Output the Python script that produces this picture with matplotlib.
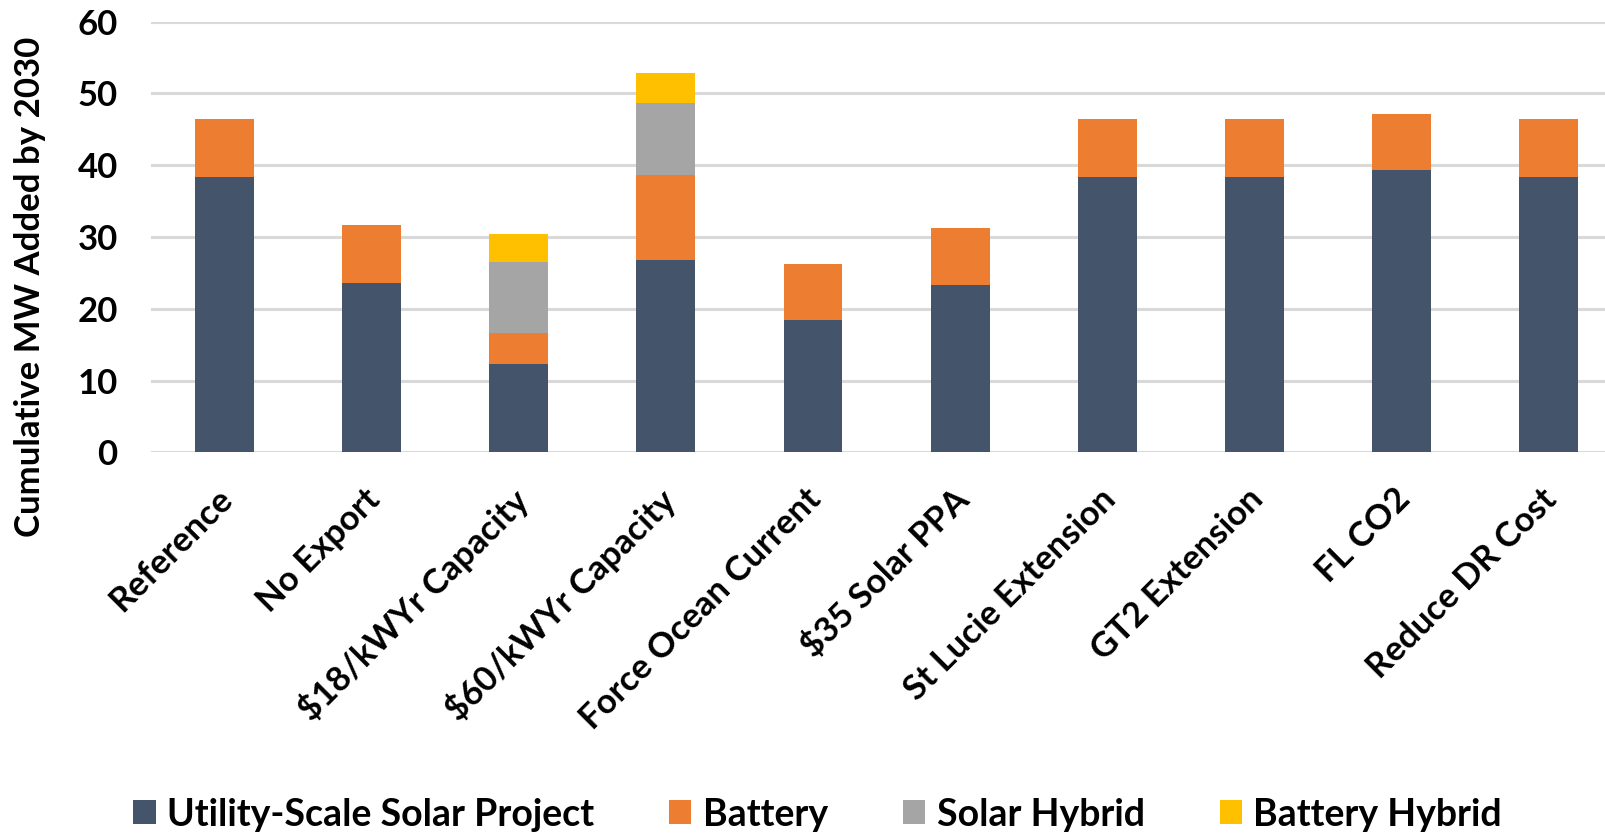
import matplotlib
matplotlib.use("Agg")
import matplotlib.pyplot as plt
import matplotlib.transforms as mtransforms
import numpy as np

plt.rcParams['font.family'] = ['Lato', 'DejaVu Sans']

scenarios = ["Reference", "No Export", "$18/kWYr Capacity", "$60/kWYr Capacity",
             "Force Ocean Current", "$35 Solar PPA", "St Lucie Extension",
             "GT2 Extension", "FL CO2", "Reduce DR Cost"]
solar = [38.4, 23.6, 12.3, 26.8, 18.4, 23.3, 38.4, 38.4, 39.3, 38.4]
battery = [8.1, 8.1, 4.3, 11.9, 7.8, 8.0, 8.1, 8.1, 7.8, 8.1]
solar_hybrid = [0, 0, 9.9, 10.0, 0, 0, 0, 0, 0, 0]
battery_hybrid = [0, 0, 3.9, 4.2, 0, 0, 0, 0, 0, 0]

series = [
    ("Utility-Scale Solar Project", solar, "#44546A"),
    ("Battery", battery, "#ED7D31"),
    ("Solar Hybrid", solar_hybrid, "#A5A5A5"),
    ("Battery Hybrid", battery_hybrid, "#FFC000"),
]

fig = plt.figure(figsize=(16.06, 8.36), dpi=100)
ax = fig.add_axes([0.094, 0.459, 0.906, 0.515])

x = np.arange(len(scenarios))
bottom = np.zeros(len(scenarios))
for name, vals, color in series:
    vals = np.array(vals)
    ax.bar(x, vals, 0.4, bottom=bottom, color=color, label=name, zorder=3)
    bottom += vals

ax.set_ylim(0, 60)
ax.set_xlim(-0.5, 9.39)
ax.set_yticks(range(0, 61, 10))
ax.yaxis.grid(True, color="#D9D9D9", linewidth=2.2, zorder=0)
ax.set_axisbelow(True)
for s in ax.spines.values():
    s.set_visible(False)
ax.tick_params(axis="both", length=0)
ax.tick_params(axis="y", labelsize=25, pad=24)
for t in ax.get_yticklabels():
    t.set_fontweight("bold")

ax.set_xticks(x)
ax.set_xticklabels(scenarios, rotation=45, ha="right", rotation_mode="anchor",
                   fontsize=25, fontweight="bold")
ax.tick_params(axis="x", pad=22)
shift = mtransforms.ScaledTranslation(-8 / 100, 0, fig.dpi_scale_trans)
for t in ax.get_xticklabels():
    t.set_transform(t.get_transform() + shift)

ax.set_ylabel("Cumulative MW Added by 2030", fontsize=25, fontweight="bold")
ax.yaxis.set_label_coords(-0.072, 0.384)

fig.legend(loc="lower center", ncol=4, bbox_to_anchor=(0.509, -0.035), frameon=False,
           prop={"size": 27, "weight": "bold"}, handlelength=0.6, handleheight=0.6,
           columnspacing=2.0, handletextpad=0.3)

fig.savefig("out.png", dpi=100)
